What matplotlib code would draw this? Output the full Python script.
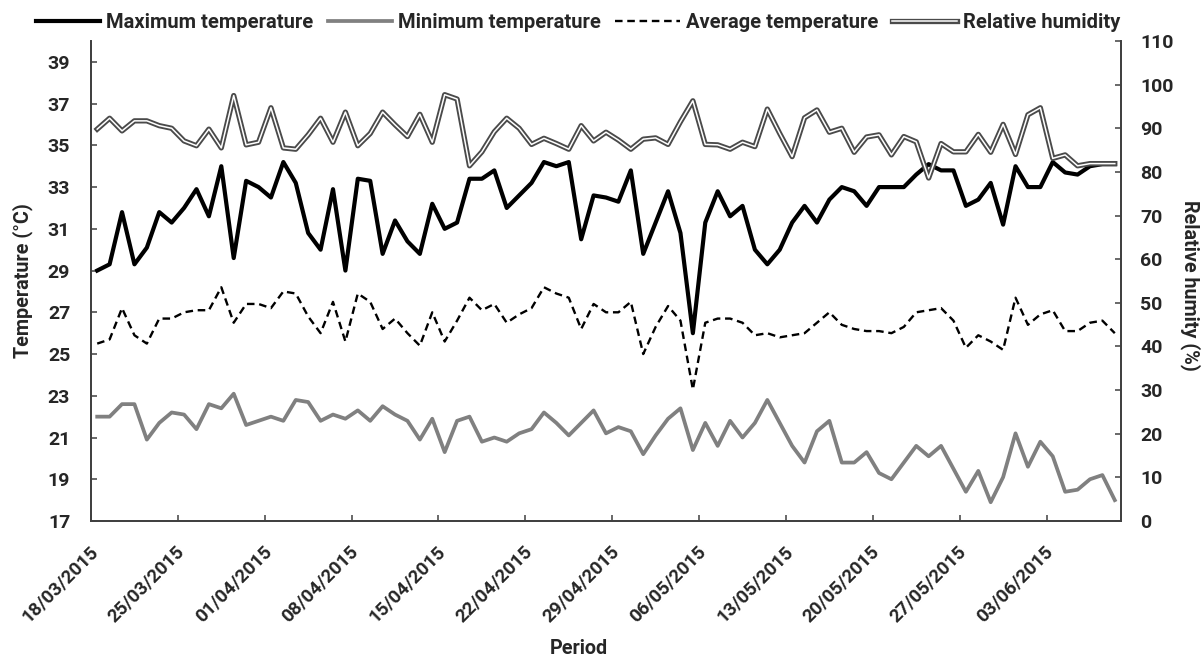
import matplotlib
matplotlib.use('Agg')
import matplotlib.pyplot as plt
import matplotlib.patheffects as pe
from matplotlib.transforms import ScaledTranslation
import numpy as np
import pandas as pd

plt.rcParams['font.family'] = ['Roboto', 'DejaVu Sans']
plt.rcParams['font.weight'] = 'bold'

# daily values, 18/03/2015 onwards
max_temp = [29.0, 29.3, 31.8, 29.3, 30.1, 31.8, 31.3, 32.0, 32.9, 31.6, 34.0, 29.6, 33.3, 33.0, 32.5, 34.2, 33.2, 30.8, 30.0, 32.9, 29.0,
            33.4, 33.3, 29.8, 31.4, 30.4, 29.8, 32.2, 31.0, 31.3, 33.4, 33.4, 33.8, 32.0, 32.6, 33.2, 34.2, 34.0, 34.2, 30.5, 32.6, 32.5,
            32.3, 33.8, 29.8, 31.3, 32.8, 30.8, 26.0, 31.3, 32.8, 31.6, 32.1, 30.0, 29.3, 30.0, 31.3, 32.1, 31.3, 32.4, 33.0, 32.8, 32.1,
            33.0, 33.0, 33.0, 33.6, 34.1, 33.8, 33.8, 32.1, 32.4, 33.2, 31.2, 34.0, 33.0, 33.0, 34.2, 33.7, 33.6, 34.0, 34.1, 34.1]
min_temp = [22.0, 22.0, 22.6, 22.6, 20.9, 21.7, 22.2, 22.1, 21.4, 22.6, 22.4, 23.1, 21.6, 21.8, 22.0, 21.8, 22.8, 22.7, 21.8, 22.1, 21.9,
            22.3, 21.8, 22.5, 22.1, 21.8, 20.9, 21.9, 20.3, 21.8, 22.0, 20.8, 21.0, 20.8, 21.2, 21.4, 22.2, 21.7, 21.1, 21.7, 22.3, 21.2,
            21.5, 21.3, 20.2, 21.1, 21.9, 22.4, 20.4, 21.7, 20.6, 21.8, 21.0, 21.7, 22.8, 21.7, 20.6, 19.8, 21.3, 21.8, 19.8, 19.8, 20.3,
            19.3, 19.0, 19.8, 20.6, 20.1, 20.6, 19.5, 18.4, 19.4, 17.9, 19.1, 21.2, 19.6, 20.8, 20.1, 18.4, 18.5, 19.0, 19.2, 18.0]
avg_temp = [25.5, 25.7, 27.2, 25.9, 25.5, 26.7, 26.7, 27.0, 27.1, 27.1, 28.2, 26.5, 27.4, 27.4, 27.2, 28.0, 27.9, 26.8, 26.0, 27.5, 25.6,
            27.9, 27.5, 26.2, 26.7, 26.0, 25.4, 27.0, 25.6, 26.6, 27.7, 27.1, 27.4, 26.5, 26.9, 27.2, 28.2, 27.9, 27.7, 26.2, 27.4, 27.0,
            27.0, 27.5, 25.0, 26.3, 27.3, 26.6, 23.3, 26.5, 26.7, 26.7, 26.5, 25.9, 26.0, 25.8, 25.9, 26.0, 26.5, 27.0, 26.4, 26.2, 26.1,
            26.1, 26.0, 26.3, 27.0, 27.1, 27.2, 26.6, 25.3, 25.9, 25.6, 25.2, 27.7, 26.4, 26.9, 27.1, 26.1, 26.1, 26.5, 26.6, 26.0]
humidity = [89.8, 92.3, 89.4, 91.7, 91.7, 90.6, 90.0, 87.1, 86.0, 89.8, 85.5, 97.5, 86.2, 86.8, 94.7, 85.5, 85.2, 88.5, 92.3, 86.8, 93.7,
            86.0, 88.8, 93.7, 90.8, 88.1, 93.2, 86.8, 97.7, 96.7, 81.4, 84.6, 89.2, 92.3, 90.0, 86.3, 87.7, 86.5, 85.2, 90.6, 87.1, 89.1,
            87.3, 85.2, 87.5, 87.8, 86.3, 91.5, 96.3, 86.3, 86.2, 85.2, 86.8, 85.8, 94.4, 88.8, 83.5, 92.4, 94.2, 89.1, 90.0, 84.5, 88.0,
            88.5, 83.9, 88.1, 86.9, 78.6, 86.5, 84.6, 84.6, 88.6, 84.5, 90.9, 84.0, 93.1, 94.7, 83.1, 83.9, 81.4, 81.9, 81.9, 81.9]

dates = pd.date_range('2015-03-18', periods=len(max_temp))
date_labels = [d.strftime('%d/%m/%Y') for d in dates[::7]]

x = np.arange(len(dates))
txt = '#262626'
axcol = '#404040'

fig = plt.figure(figsize=(12.02, 6.58), dpi=100)
ax = fig.add_axes([91 / 1202, 1 - 521 / 658, 1030 / 1202, 480 / 658])
ax2 = ax.twinx()

l1, = ax.plot(x, max_temp, color='black', lw=3.0, label='Maximum temperature')
l2, = ax.plot(x, min_temp, color='#808080', lw=2.7, label='Minimum temperature')
l3, = ax.plot(x, avg_temp, color='black', lw=1.7, dashes=(3.2, 2), label='Average temperature')
# double line: dark outline with a white core
l4, = ax2.plot(x, humidity, color='white', lw=1.1, label='Relative humidity',
               path_effects=[pe.Stroke(linewidth=3.8, foreground='#4a4a4a'), pe.Normal()])

ax.set_xlim(-0.5, len(x) - 0.5)
ax.set_ylim(17, 40)
ax2.set_ylim(0, 110)
ax.set_yticks(np.arange(17, 40, 2))
ax2.set_yticks(np.arange(0, 111, 10))
ax.set_xticks(x[::7] - 0.5)
ax.set_xticklabels(date_labels, rotation=45, ha='right', va='center', rotation_mode='anchor')

for a in (ax, ax2):
    for s in a.spines.values():
        s.set_color(axcol)
        s.set_linewidth(1.3)
    a.spines['top'].set_visible(False)
    a.tick_params(direction='in', length=4, width=1.1, color=axcol, labelcolor=txt, labelsize=14)
    for lab in a.get_xticklabels() + a.get_yticklabels():
        lab.set_fontweight('bold')
ax.tick_params(axis='y', pad=15)
ax2.tick_params(axis='y', pad=14)
ax.tick_params(axis='x', pad=20, labelsize=13.5)
for lab in ax.get_xticklabels():
    lab.set_transform(lab.get_transform() + ScaledTranslation(4 / 100, 0, fig.dpi_scale_trans))

ax.set_ylabel('Temperature (°C)', fontsize=14.2, fontweight='bold', color=txt, va='center')
ax.yaxis.set_label_coords(-0.0666, 0.5)
ax2.set_ylabel('Relative humity (%)', fontsize=14.2, fontweight='bold', color=txt, rotation=270, va='center')
ax2.yaxis.set_label_coords(1.067, 0.49)
ax.set_xlabel('Period', fontsize=14.2, fontweight='bold', color=txt, va='center')
ax.xaxis.set_label_coords(0.474, -0.265)

fig.legend(handles=[l1, l2, l3, l4], loc='center', bbox_to_anchor=(578 / 1202, 1 - 23 / 658), ncol=4,
           frameon=False, handlelength=3.2, handletextpad=0.3, columnspacing=0.7,
           prop={'size': 14.5, 'weight': 'bold'}, labelcolor=txt)

fig.savefig('out.png', dpi=100)
